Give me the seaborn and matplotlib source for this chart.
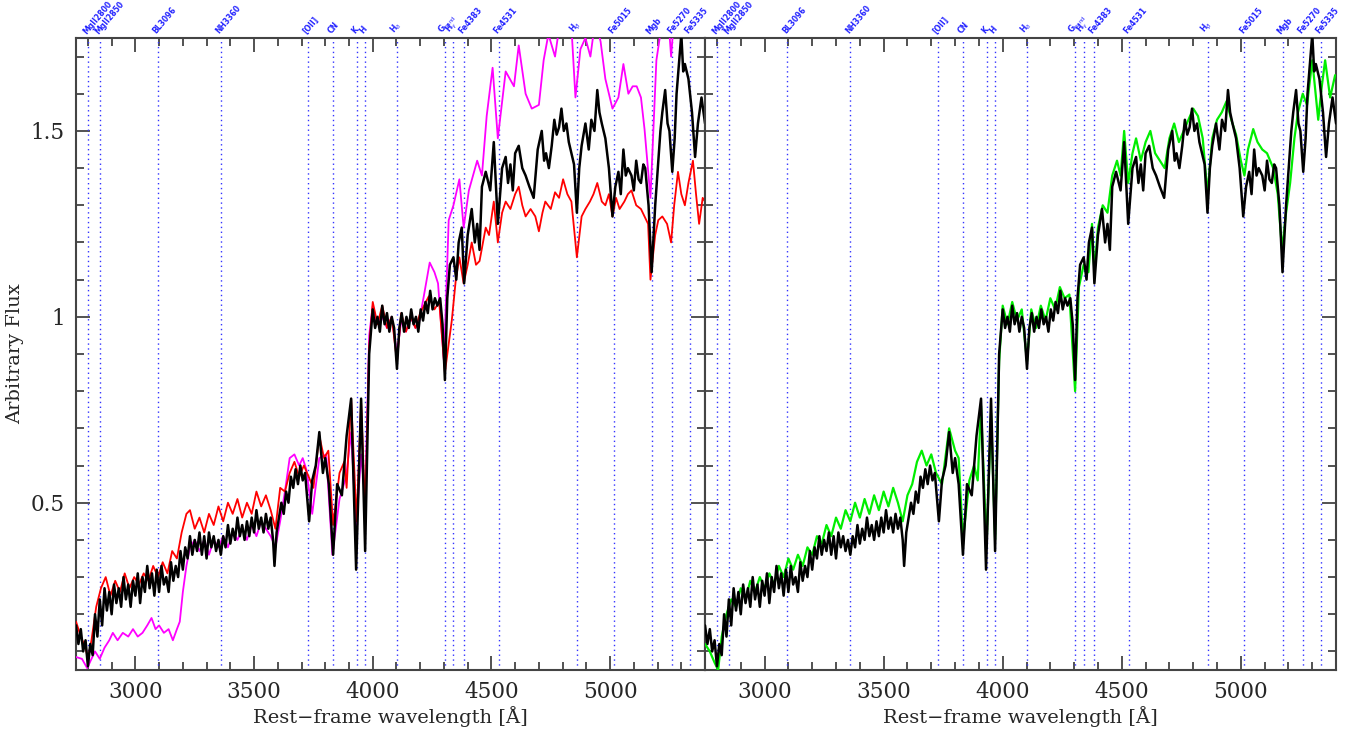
import numpy as np
import pandas as pd
import matplotlib
matplotlib.use("Agg")
import matplotlib.pyplot as plt
from matplotlib.ticker import MultipleLocator
import seaborn as sns

# Observed stacked spectrum (rest-frame wavelength in Angstrom, arbitrary flux)
wave_obs = [2750, 2760, 2770, 2780, 2790, 2800, 2810, 2820, 2830, 2840, 2850, 2860, 2870,
            2880, 2890, 2900, 2910, 2920, 2930, 2940, 2950, 2960, 2970, 2980, 2990, 3000,
            3010, 3020, 3030, 3040, 3050, 3060, 3070, 3080, 3090, 3100, 3110, 3120, 3130,
            3140, 3150, 3160, 3170, 3180, 3190, 3200, 3210, 3220, 3230, 3240, 3250, 3260,
            3270, 3280, 3290, 3300, 3310, 3320, 3330, 3340, 3350, 3360, 3370, 3380, 3390,
            3400, 3410, 3420, 3430, 3440, 3450, 3460, 3470, 3480, 3490, 3500, 3510, 3520,
            3530, 3540, 3550, 3560, 3570, 3580, 3586, 3595, 3605, 3615, 3625, 3635, 3645,
            3655, 3665, 3675, 3685, 3695, 3705, 3715, 3732, 3745, 3760, 3775, 3790, 3800,
            3815, 3833, 3850, 3870, 3890, 3909, 3930, 3951, 3968, 3985, 4000, 4010, 4020,
            4030, 4040, 4050, 4060, 4070, 4080, 4090, 4102, 4112, 4122, 4132, 4142, 4152,
            4162, 4172, 4182, 4192, 4202, 4212, 4222, 4232, 4242, 4252, 4262, 4272, 4284,
            4294, 4304, 4314, 4325, 4340, 4352, 4362, 4375, 4385, 4400, 4417, 4430, 4440,
            4450, 4460, 4476, 4495, 4510, 4527, 4545, 4560, 4570, 4580, 4590, 4600, 4615,
            4630, 4644, 4660, 4678, 4695, 4712, 4722, 4730, 4742, 4754, 4765, 4775, 4785,
            4795, 4805, 4816, 4826, 4837, 4848, 4860, 4870, 4880, 4896, 4910, 4921, 4934,
            4946, 4955, 4965, 4980, 4995, 5010, 5022, 5035, 5045, 5056, 5066, 5075, 5090,
            5100, 5110, 5120, 5130, 5140, 5148, 5162, 5175, 5190, 5203, 5212, 5220, 5232,
            5242, 5250, 5262, 5272, 5280, 5290, 5300, 5308, 5315, 5330, 5345, 5358, 5370,
            5385, 5400]
flux_obs = [0.17, 0.12, 0.16, 0.10, 0.13, 0.06, 0.12, 0.09, 0.20, 0.14, 0.24, 0.17, 0.27,
            0.21, 0.26, 0.20, 0.28, 0.23, 0.27, 0.22, 0.30, 0.24, 0.28, 0.22, 0.29, 0.25,
            0.31, 0.23, 0.30, 0.26, 0.33, 0.27, 0.31, 0.25, 0.32, 0.26, 0.33, 0.28, 0.30,
            0.26, 0.34, 0.29, 0.33, 0.30, 0.37, 0.32, 0.38, 0.35, 0.41, 0.36, 0.40, 0.37,
            0.42, 0.36, 0.41, 0.35, 0.42, 0.38, 0.41, 0.37, 0.40, 0.36, 0.41, 0.38, 0.44,
            0.39, 0.43, 0.40, 0.46, 0.41, 0.44, 0.40, 0.45, 0.41, 0.46, 0.42, 0.48, 0.43,
            0.46, 0.42, 0.47, 0.43, 0.46, 0.40, 0.33, 0.42, 0.46, 0.50, 0.47, 0.53, 0.50,
            0.57, 0.54, 0.59, 0.55, 0.60, 0.56, 0.58, 0.45, 0.56, 0.60, 0.69, 0.58, 0.62,
            0.55, 0.36, 0.55, 0.52, 0.68, 0.78, 0.32, 0.78, 0.37, 0.90, 1.02, 0.97, 1.00,
            0.96, 1.03, 0.98, 1.01, 0.96, 1.00, 0.97, 0.86, 0.97, 1.01, 0.96, 1.00, 0.97,
            1.02, 0.98, 1.00, 0.96, 1.02, 0.99, 1.04, 1.01, 1.07, 1.02, 1.05, 1.03, 1.05,
            0.98, 0.83, 1.05, 1.14, 1.16, 1.10, 1.20, 1.24, 1.09, 1.22, 1.29, 1.20, 1.25,
            1.18, 1.35, 1.39, 1.34, 1.47, 1.25, 1.40, 1.43, 1.36, 1.41, 1.34, 1.44, 1.46,
            1.40, 1.38, 1.35, 1.32, 1.45, 1.50, 1.42, 1.44, 1.40, 1.46, 1.53, 1.49, 1.51,
            1.56, 1.50, 1.52, 1.47, 1.44, 1.41, 1.28, 1.40, 1.46, 1.52, 1.45, 1.53, 1.50,
            1.61, 1.55, 1.52, 1.48, 1.40, 1.27, 1.35, 1.39, 1.33, 1.45, 1.38, 1.40, 1.38,
            1.34, 1.42, 1.37, 1.36, 1.41, 1.40, 1.30, 1.12, 1.30, 1.42, 1.50, 1.55, 1.61,
            1.52, 1.50, 1.39, 1.48, 1.60, 1.68, 1.76, 1.66, 1.68, 1.64, 1.55, 1.43, 1.52,
            1.59, 1.52]

# Red model
wave_red = [2750, 2770, 2790, 2800, 2815, 2835, 2855, 2875, 2895, 2915, 2935, 2955, 2975,
            2995, 3015, 3035, 3055, 3075, 3095, 3115, 3135, 3155, 3175, 3195, 3215, 3230,
            3250, 3270, 3290, 3310, 3330, 3350, 3370, 3390, 3410, 3430, 3450, 3470, 3490,
            3510, 3530, 3550, 3570, 3590, 3610, 3630, 3650, 3670, 3690, 3710, 3730, 3750,
            3775, 3795, 3813, 3833, 3860, 3880, 3890, 3909, 3932, 3951, 3968, 3985, 4000,
            4020, 4040, 4060, 4080, 4102, 4120, 4140, 4160, 4180, 4200, 4236, 4260, 4280,
            4304, 4333, 4350, 4365, 4383, 4400, 4417, 4435, 4450, 4476, 4490, 4510, 4527,
            4545, 4560, 4580, 4600, 4615, 4630, 4644, 4665, 4685, 4700, 4715, 4727, 4750,
            4768, 4785, 4802, 4820, 4837, 4860, 4880, 4896, 4915, 4930, 4946, 4965, 4980,
            4995, 5010, 5025, 5040, 5060, 5075, 5090, 5110, 5130, 5145, 5160, 5170, 5190,
            5203, 5220, 5240, 5257, 5270, 5286, 5300, 5315, 5330, 5349, 5362, 5375, 5390,
            5400]
flux_red = [0.18, 0.14, 0.11, 0.08, 0.13, 0.22, 0.27, 0.30, 0.25, 0.29, 0.26, 0.31, 0.27,
            0.30, 0.28, 0.31, 0.29, 0.33, 0.30, 0.34, 0.31, 0.37, 0.35, 0.42, 0.47, 0.48,
            0.43, 0.46, 0.42, 0.47, 0.44, 0.49, 0.45, 0.50, 0.47, 0.51, 0.46, 0.50, 0.47,
            0.53, 0.49, 0.52, 0.48, 0.43, 0.54, 0.53, 0.58, 0.61, 0.57, 0.60, 0.57, 0.54,
            0.68, 0.62, 0.64, 0.44, 0.58, 0.61, 0.54, 0.78, 0.45, 0.77, 0.48, 0.92, 1.04,
            0.98, 1.03, 0.97, 1.00, 0.88, 1.01, 0.96, 1.00, 0.97, 1.01, 1.055, 1.02, 1.04,
            0.85, 0.99, 1.10, 1.16, 1.09, 1.14, 1.20, 1.14, 1.15, 1.24, 1.22, 1.31, 1.20,
            1.28, 1.31, 1.29, 1.33, 1.35, 1.30, 1.27, 1.29, 1.27, 1.23, 1.28, 1.31, 1.29,
            1.335, 1.32, 1.37, 1.33, 1.31, 1.16, 1.27, 1.29, 1.31, 1.33, 1.36, 1.31, 1.30,
            1.33, 1.27, 1.32, 1.29, 1.31, 1.33, 1.34, 1.30, 1.29, 1.27, 1.25, 1.10, 1.22,
            1.26, 1.27, 1.25, 1.20, 1.30, 1.39, 1.33, 1.30, 1.36, 1.42, 1.33, 1.25, 1.32,
            1.31]

# Magenta model
wave_mag = [2750, 2775, 2797, 2815, 2830, 2850, 2870, 2890, 2905, 2925, 2947, 2970, 2990,
            3010, 3030, 3050, 3068, 3085, 3100, 3120, 3140, 3158, 3175, 3187, 3200, 3215,
            3230, 3250, 3270, 3290, 3310, 3330, 3350, 3370, 3390, 3410, 3430, 3450, 3470,
            3490, 3510, 3530, 3550, 3570, 3590, 3610, 3630, 3650, 3670, 3690, 3705, 3720,
            3745, 3775, 3804, 3830, 3860, 3888, 3909, 3930, 3951, 3968, 3985, 4000, 4020,
            4040, 4060, 4080, 4102, 4120, 4140, 4160, 4180, 4195, 4215, 4240, 4260, 4275,
            4300, 4320, 4340, 4365, 4383, 4405, 4440, 4460, 4480, 4505, 4527, 4560, 4595,
            4615, 4644, 4670, 4700, 4720, 4740, 4768, 4795, 4820, 4837, 4854, 4875, 4896,
            4917, 4938, 4960, 4980, 5010, 5035, 5056, 5077, 5095, 5112, 5130, 5145, 5170,
            5195, 5216, 5240, 5257, 5275, 5300, 5350, 5400]
flux_mag = [0.085, 0.08, 0.055, 0.08, 0.10, 0.08, 0.11, 0.13, 0.15, 0.13, 0.15, 0.14, 0.16,
            0.14, 0.15, 0.17, 0.19, 0.16, 0.17, 0.15, 0.16, 0.13, 0.16, 0.18, 0.26, 0.33,
            0.38, 0.40, 0.37, 0.40, 0.36, 0.40, 0.38, 0.41, 0.38, 0.42, 0.40, 0.43, 0.40,
            0.44, 0.41, 0.45, 0.43, 0.41, 0.38, 0.45, 0.53, 0.62, 0.63, 0.60, 0.62, 0.59,
            0.47, 0.62, 0.63, 0.36, 0.51, 0.57, 0.69, 0.43, 0.63, 0.51, 0.95, 1.03, 0.98,
            1.00, 0.97, 1.00, 0.90, 0.99, 0.96, 1.00, 0.97, 0.985, 1.055, 1.146, 1.12, 1.09,
            0.88, 1.26, 1.30, 1.37, 1.24, 1.34, 1.42, 1.38, 1.54, 1.67, 1.48, 1.66, 1.62,
            1.73, 1.60, 1.56, 1.57, 1.69, 1.76, 1.70, 1.82, 1.83, 1.78, 1.59, 1.72, 1.75,
            1.70, 1.80, 1.74, 1.64, 1.56, 1.59, 1.68, 1.60, 1.62, 1.62, 1.59, 1.505, 1.32,
            1.69, 1.78, 1.85, 1.70, 1.85, 1.90, 1.90, 1.90]

# Green model (right panel)
wave_grn = [2750, 2770, 2790, 2805, 2820, 2840, 2860, 2880, 2900, 2920, 2940, 2960, 2980,
            3000, 3020, 3040, 3060, 3080, 3100, 3120, 3140, 3160, 3180, 3200, 3220, 3240,
            3260, 3280, 3300, 3320, 3340, 3360, 3380, 3400, 3420, 3440, 3460, 3480, 3500,
            3520, 3540, 3560, 3580, 3600, 3620, 3640, 3660, 3680, 3700, 3720, 3745, 3775,
            3800, 3815, 3833, 3860, 3880, 3895, 3909, 3932, 3951, 3968, 3985, 4000, 4020,
            4040, 4060, 4080, 4102, 4120, 4140, 4160, 4180, 4200, 4220, 4240, 4260, 4280,
            4304, 4320, 4340, 4360, 4375, 4385, 4400, 4420, 4440, 4460, 4480, 4495, 4510,
            4527, 4545, 4560, 4580, 4600, 4620, 4640, 4660, 4680, 4700, 4720, 4740, 4760,
            4780, 4800, 4820, 4840, 4860, 4880, 4900, 4920, 4940, 4960, 4980, 5000, 5015,
            5030, 5052, 5070, 5090, 5110, 5136, 5155, 5173, 5190, 5207, 5225, 5240, 5260,
            5278, 5300, 5325, 5340, 5354, 5375, 5396]
flux_grn = [0.12, 0.10, 0.07, 0.05, 0.14, 0.20, 0.24, 0.22, 0.27, 0.24, 0.29, 0.26, 0.30,
            0.27, 0.31, 0.28, 0.33, 0.30, 0.35, 0.32, 0.36, 0.33, 0.38, 0.36, 0.41, 0.39,
            0.44, 0.41, 0.46, 0.43, 0.48, 0.45, 0.50, 0.46, 0.51, 0.47, 0.52, 0.48, 0.53,
            0.49, 0.54, 0.50, 0.45, 0.52, 0.55, 0.61, 0.64, 0.60, 0.63, 0.58, 0.55, 0.70,
            0.64, 0.62, 0.40, 0.56, 0.60, 0.56, 0.76, 0.38, 0.74, 0.40, 0.88, 1.03, 0.98,
            1.04, 0.99, 1.02, 0.88, 1.02, 0.97, 1.03, 0.99, 1.05, 1.02, 1.08, 1.05, 1.06,
            0.80, 1.08, 1.14, 1.12, 1.25, 1.12, 1.24, 1.30, 1.28, 1.38, 1.42, 1.38, 1.50,
            1.36, 1.44, 1.48, 1.42, 1.47, 1.50, 1.44, 1.42, 1.40, 1.48, 1.52, 1.47, 1.50,
            1.53, 1.56, 1.54, 1.48, 1.33, 1.48, 1.53, 1.55, 1.58, 1.53, 1.49, 1.42, 1.38,
            1.45, 1.505, 1.47, 1.45, 1.44, 1.40, 1.33, 1.18, 1.28, 1.36, 1.48, 1.55, 1.60,
            1.57, 1.69, 1.53, 1.62, 1.69, 1.59, 1.65]

# Spectral features marked along the top
feat_wave = [2800, 2852, 3096, 3360, 3727, 3833, 3934, 3968, 4102, 4304, 4340, 4383,
             4531, 4861, 5015, 5175, 5262, 5335]
feat_label = ["MgII2800", "MgII2850", "BL3096", "NH3360", "[OII]", "CN", "K", "H",
              r"H$_\delta$", r"G$_{\rm band}$", r"H$_\gamma$", "Fe4383", "Fe4531",
              r"H$_\beta$", "Fe5015", "Mgb", "Fe5270", "Fe5335"]

x_limits = (2750, 5400)
y_limits = (0.05, 1.75)

sns.set_style("ticks")
plt.rcParams["font.family"] = ["DejaVu Serif"]
plt.rcParams["mathtext.fontset"] = "dejavusans"

fig = plt.figure(figsize=(13.53, 7.29), dpi=100)
ax_l = fig.add_axes([0.0562, 0.0809, 0.4649, 0.867])
ax_r = fig.add_axes([0.5211, 0.0809, 0.4664, 0.867])

obs = pd.DataFrame({"wave": wave_obs, "flux": flux_obs})
red = pd.DataFrame({"wave": wave_red, "flux": flux_red})
mag = pd.DataFrame({"wave": wave_mag, "flux": flux_mag})
grn = pd.DataFrame({"wave": wave_grn, "flux": flux_grn})

for ax in (ax_l, ax_r):
    for w in feat_wave:
        ax.axvline(w, color="#3333ff", ls=(0, (1, 2.5)), lw=1.0, zorder=1)

sns.lineplot(data=mag, x="wave", y="flux", ax=ax_l, color="#ff00ff", lw=1.3,
             sort=False, estimator=None, zorder=3)
sns.lineplot(data=red, x="wave", y="flux", ax=ax_l, color="#ff0000", lw=1.3,
             sort=False, estimator=None, zorder=3)
sns.lineplot(data=obs, x="wave", y="flux", ax=ax_l, color="black", lw=1.8,
             sort=False, estimator=None, zorder=4)

sns.lineplot(data=grn, x="wave", y="flux", ax=ax_r, color="#00ee00", lw=1.6,
             sort=False, estimator=None, zorder=3)
sns.lineplot(data=obs, x="wave", y="flux", ax=ax_r, color="black", lw=1.8,
             sort=False, estimator=None, zorder=4)

for ax in (ax_l, ax_r):
    ax.set_xlim(*x_limits)
    ax.set_ylim(*y_limits)
    ax.xaxis.set_major_locator(MultipleLocator(500))
    ax.xaxis.set_minor_locator(MultipleLocator(100))
    ax.yaxis.set_major_locator(MultipleLocator(0.5))
    ax.yaxis.set_minor_locator(MultipleLocator(0.1))
    ax.tick_params(which="both", direction="in", top=True, right=True,
                   color="#444444", width=1.3, labelsize=15.5, pad=8)
    ax.tick_params(which="major", length=10)
    ax.tick_params(which="minor", length=5.5)
    for sp in ax.spines.values():
        sp.set_color("#444444")
        sp.set_linewidth(1.5)
    ax.set_xlabel("Rest\u2212frame wavelength [\u00c5]", fontsize=14, labelpad=2)
    ax.set_ylabel("")
    for w, lab in zip(feat_wave, feat_label):
        ax.text(w, y_limits[1] + 0.006, lab, rotation=50, ha="left", va="bottom",
                rotation_mode="anchor", fontsize=5.5, fontweight="bold",
                color="#2222ff", family="DejaVu Sans")

ax_l.set_ylabel("Arbitrary Flux", fontsize=14)
ax_l.yaxis.set_label_coords(-0.082, 0.5)
ax_l.set_yticks([0.5, 1.0, 1.5])
ax_l.set_yticklabels(["0.5", "1", "1.5"])
ax_r.set_yticks([0.5, 1.0, 1.5])
ax_r.set_yticklabels([])

fig.savefig("out.png", dpi=100)
